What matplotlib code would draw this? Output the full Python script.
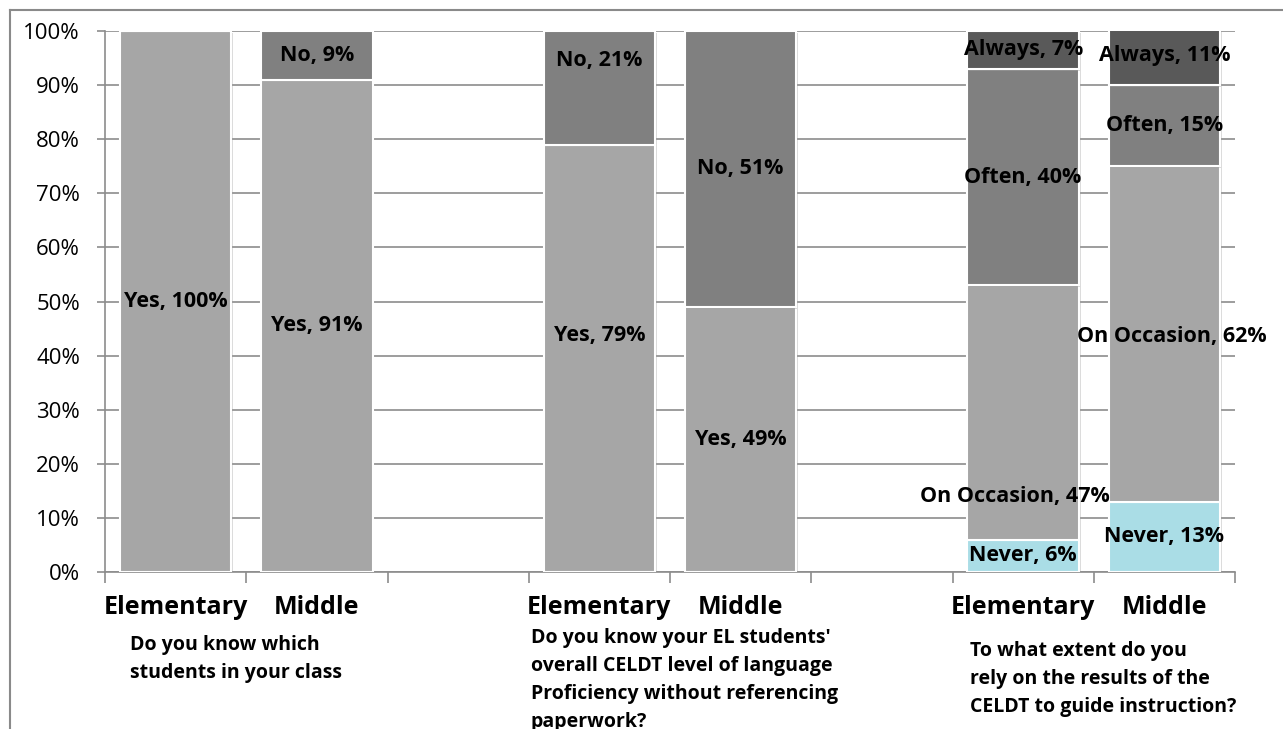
import matplotlib
matplotlib.use("Agg")
import matplotlib.pyplot as plt
import matplotlib.patheffects as pe
from matplotlib.lines import Line2D

# ---- data -------------------------------------------------------------
levels = ["Elementary", "Middle"]

q1_yes = [100, 91]
q1_no = [0, 9]

q2_yes = [79, 49]
q2_no = [21, 51]

q3_never = [6, 13]
q3_occasion = [47, 62]
q3_often = [40, 15]
q3_always = [7, 11]

questions = [
    "Do you know which\nstudents in your class",
    "Do you know your EL students'\noverall CELDT level of language\nProficiency without referencing\npaperwork?",
    "To what extent do you\nrely on the results of the\nCELDT to guide instruction?",
]
y_ticks = [0, 10, 20, 30, 40, 50, 60, 70, 80, 90, 100]

# ---- styling ----------------------------------------------------------
FONT = "Open Sans"
C_LIGHT = "#A6A6A6"
C_MID = "#808080"
C_DARK = "#595959"
C_NEVER = "#AADDE6"
GRID = "#8C8C8C"

fig = plt.figure(figsize=(12.83, 7.29), dpi=100)
ax = fig.add_axes([105 / 1283, 1 - 572 / 729, 1130 / 1283, 541 / 729])

shadow = [pe.SimplePatchShadow(offset=(1.2, -1.2), shadow_rgbFace="#999999", alpha=0.35),
          pe.Normal()]

BAR_W = 0.79


def stack(xs, series, labels, colors, label_shift=None):
    """Draw one stacked column group, labelling each non-empty segment."""
    bottoms = [0] * len(xs)
    for si, (vals, name, col) in enumerate(zip(series, labels, colors)):
        bars = ax.bar(xs, vals, width=BAR_W, bottom=bottoms, color=col,
                      edgecolor="white", linewidth=1.5, zorder=3)
        for b in bars:
            b.set_path_effects(shadow)
        for i, (x, v) in enumerate(zip(xs, vals)):
            if v > 0:
                dx, dy = (label_shift or {}).get((si, i), (0, 0))
                ax.text(x + dx, bottoms[i] + v / 2 + dy, f"{name}, {v}%",
                        ha="center", va="center", fontsize=15.5,
                        fontweight="bold", family=FONT, color="black",
                        zorder=5)
        bottoms = [b + v for b, v in zip(bottoms, vals)]


stack([0, 1], [q1_yes, q1_no], ["Yes", "No"], [C_LIGHT, C_MID])
stack([3, 4], [q2_yes, q2_no], ["Yes", "No"], [C_LIGHT, C_MID],
      label_shift={(0, 0): (0, 4.3), (1, 0): (0, 5.0)})
stack([6, 7], [q3_never, q3_occasion, q3_often, q3_always],
      ["Never", "On Occasion", "Often", "Always"],
      [C_NEVER, C_LIGHT, C_MID, C_DARK],
      label_shift={(1, 0): (-0.06, -15.6), (1, 1): (0.05, -0.5)})

# ---- axes -------------------------------------------------------------
ax.set_xlim(-0.5, 7.5)
ax.set_ylim(0, 100)
ax.set_yticks(y_ticks)
ax.set_yticklabels([f"{t}%" for t in y_ticks], family=FONT, fontsize=16)
ax.yaxis.grid(True, color=GRID, linewidth=1.2, zorder=0)
ax.set_axisbelow(True)
ax.set_xticks([i - 0.5 for i in range(9)])
ax.set_xticklabels([])
ax.tick_params(axis="x", length=8, width=1.2, color=GRID, direction="out")
ax.tick_params(axis="y", length=6, width=1.2, color=GRID, direction="out", pad=12)
for s in ("top", "right"):
    ax.spines[s].set_visible(False)
for s in ("left", "bottom"):
    ax.spines[s].set_color(GRID)
    ax.spines[s].set_linewidth(1.2)

# category labels under each column
for g, start in enumerate([0, 3, 6]):
    for k, lev in enumerate(levels):
        ax.text(start + k, -6.6, lev, ha="center", va="center",
                fontsize=18, fontweight="bold", family=FONT,
                transform=ax.transData, clip_on=False)

# question captions
cap_pos = [(130, 635), (531, 628), (970, 641)]
for q, (px, py) in zip(questions, cap_pos):
    fig.text(px / 1283, 1 - py / 729, q, ha="left", va="top",
             fontsize=14, fontweight="bold", family=FONT, linespacing=1.53)

# outer chart-area border (left and top edges)
fig.add_artist(Line2D([10 / 1283, 10 / 1283], [0, 1 - 10 / 729],
                      transform=fig.transFigure, color="#8A8A8A", linewidth=1.5))
fig.add_artist(Line2D([10 / 1283, 1], [1 - 10 / 729, 1 - 10 / 729],
                      transform=fig.transFigure, color="#8A8A8A", linewidth=1.5))

fig.savefig("out.png", dpi=100, facecolor="white")
